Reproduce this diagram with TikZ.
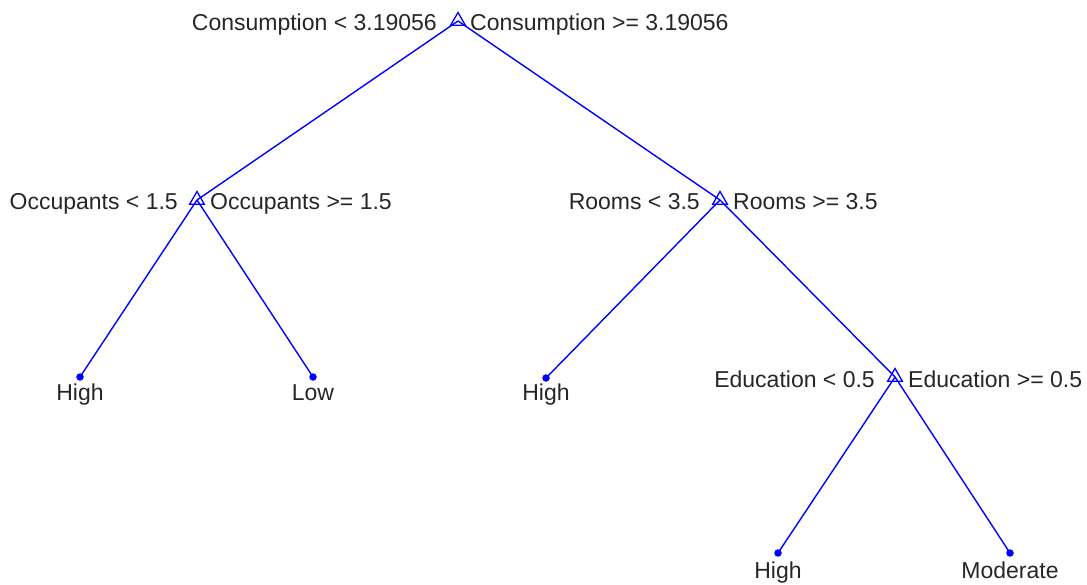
\documentclass[tikz,border=0pt]{standalone}
\usepackage{fontspec}
\setmainfont{Liberation Sans}
\usetikzlibrary{shapes.geometric}
\definecolor{txt}{RGB}{38,38,38}
\begin{document}
\begin{tikzpicture}[x=1pt,y=-1pt,
  edge/.style={draw=blue,line width=1.4pt},
  split/.style={draw=blue,line width=1.3pt,regular polygon sides=3,shape=regular polygon,inner sep=0pt,minimum size=17pt},
  leaf/.style={circle,fill=blue,inner sep=0pt,minimum size=7.5pt},
  lab/.style={font=\fontsize{23}{26}\selectfont,text=txt,inner sep=0pt},
]
\useasboundingbox (0,0) rectangle (1087,585);
\coordinate (r) at (458,21);
\coordinate (o) at (197,200);
\coordinate (m) at (720,200);
\coordinate (e) at (895,377);
\coordinate (l1) at (80,377);
\coordinate (l2) at (313,377);
\coordinate (l3) at (546,378);
\coordinate (l4) at (778,553);
\coordinate (l5) at (1010,553);
\draw[edge] (r) -- (o);
\draw[edge] (r) -- (m);
\draw[edge] (o) -- (l1);
\draw[edge] (o) -- (l2);
\draw[edge] (m) -- (l3);
\draw[edge] (m) -- (e);
\draw[edge] (e) -- (l4);
\draw[edge] (e) -- (l5);
\node[split] (rn) at (r) {};
\node[split] (on) at (o) {};
\node[split] (mn) at (m) {};
\node[split] (en) at (e) {};
\foreach \c in {l1,l2,l3,l4,l5} \node[leaf] (\c n) at (\c) {};
\node[lab,anchor=base east] (ra) at (437,31) {Consumption < 3.19056};
\node[lab,anchor=base west] (rb) at (470,31) {Consumption >= 3.19056};
\node[lab,anchor=base east] (oa) at (178,210) {Occupants < 1.5};
\node[lab,anchor=base west] (ob) at (210,210) {Occupants >= 1.5};
\node[lab,anchor=base east] (ma) at (700,210) {Rooms < 3.5};
\node[lab,anchor=base west] (mb) at (733,210) {Rooms >= 3.5};
\node[lab,anchor=base east] (ea) at (875,387) {Education < 0.5};
\node[lab,anchor=base west] (eb) at (908,387) {Education >= 0.5};
\node[lab,anchor=base] (t1) at (80,400) {High};
\node[lab,anchor=base] (t2) at (313,400) {Low};
\node[lab,anchor=base] (t3) at (546,400) {High};
\node[lab,anchor=base] (t4) at (778,578) {High};
\node[lab,anchor=base] (t5) at (1010,578) {Moderate};
\end{tikzpicture}
\end{document}
